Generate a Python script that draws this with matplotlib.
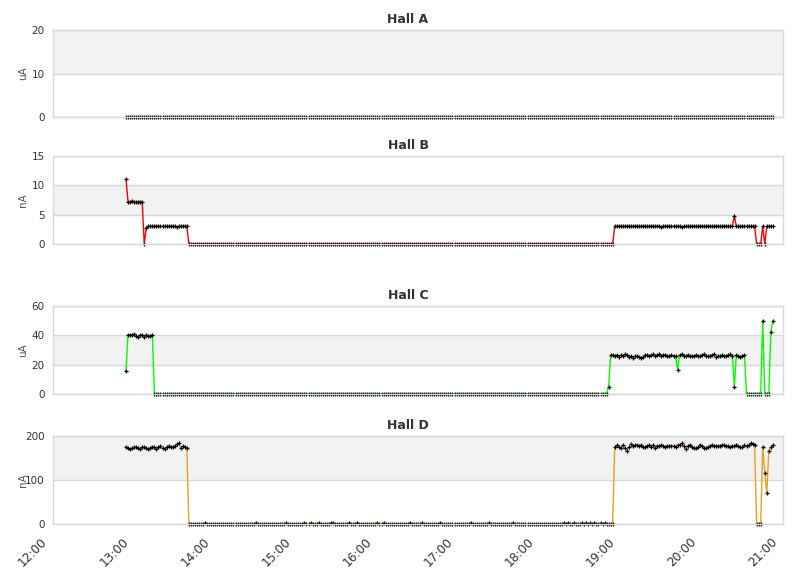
import matplotlib
matplotlib.use("Agg")
import matplotlib.pyplot as plt
import matplotlib.dates as mdates
import matplotlib.transforms as mtransforms
from datetime import datetime, timedelta

# ---------------- data ----------------
start_time = datetime(2000, 1, 1, 12, 54)
step_seconds = 90
n_points = 320
times = [start_time + timedelta(seconds=step_seconds * i) for i in range(n_points)]

titles = ["Hall A", "Hall B", "Hall C", "Hall D"]
units = ["uA", "nA", "uA", "nA"]

hall_a = [0.0] * 320

hall_b_start = [11.1, 7.2, 7.2, 7.3, 7.2, 7.1, 7.2, 7.2, 7.2, 0.0,
                2.8] + [3.0] * 14 + [2.85] + [3.0] * 5
hall_b_idle = [0.0] * 210
hall_b_evening = [3.0] * 23 + [2.85] + [3.0] * 9 + [2.85] + [3.0] * 25 + [4.8] + [3.0] * 10
hall_b_tail = [0.0, 0.0, 0.0, 3.0, 0.0, 3.0, 3.0, 3.0, 3.0]
hall_b = hall_b_start + hall_b_idle + hall_b_evening + hall_b_tail

hall_c_start = [16.0, 40.4, 40.4, 40.4, 41.1, 39.8, 39.0, 40.2, 40.2, 39.0,
                40.4, 39.8, 39.8, 40.4]
hall_c_idle = [0.0] * 224
hall_c_evening = [5.0,
                  26.6, 26.6, 25.9, 26.6, 25.5, 26.6, 26.1, 27.0, 26.6, 25.5,
                  25.9, 24.8, 25.9, 25.9, 25.5, 24.8, 25.2, 26.4, 26.6, 26.1,
                  26.6, 27.0, 25.9, 26.6, 27.0, 26.1, 26.6, 26.6, 26.1, 25.9,
                  26.6, 26.1, 25.9,
                  16.6,
                  26.6, 27.0, 26.1, 25.9, 26.6, 26.1, 25.9, 26.1, 26.6, 26.1,
                  25.9, 26.6, 27.0, 26.1, 25.9, 26.1, 26.6, 27.0, 25.5, 25.9,
                  26.1, 26.6, 25.9, 26.1, 26.6, 27.0, 26.1,
                  5.0,
                  26.6, 25.9, 25.5, 26.1, 26.6]
hall_c_tail = [0.0] * 8 + [50.0, 0.0, 0.0, 0.0, 42.0, 50.0]
hall_c = hall_c_start + hall_c_idle + hall_c_evening + hall_c_tail

hall_d_start = [176, 172, 170, 172, 174, 175, 173, 171, 174, 176,
                172, 170, 173, 176, 174, 171, 174, 177, 173, 171,
                175, 177, 174, 176, 178, 181, 184, 172, 177, 175, 173]
hall_d_idle = [0.0] * 210
hall_d_blip_index = [39, 64, 79, 88, 91, 95, 101, 102, 110, 114, 124, 127, 140,
                     146, 155, 170, 179, 191, 216, 218, 221, 225, 227, 229, 231,
                     234, 236]
hall_d_blip_value = 3.0
hall_d_evening = [174, 179, 176, 172, 180, 172, 166, 176, 182, 177,
                  179, 180, 178, 179, 176, 174, 178, 180, 176, 179,
                  172, 177, 178, 180, 177, 176, 178, 177, 178, 177,
                  176, 179, 180, 183, 177, 170, 178, 180, 174, 173,
                  172, 174, 180, 177, 173, 172, 176, 178, 180, 178,
                  177, 178, 178, 179, 180, 177, 178, 174, 178, 178,
                  180, 177, 174, 174, 179, 177, 180, 183, 182, 180]
hall_d_tail = [0, 0, 0, 175, 117, 70, 167, 174, 180]
hall_d = [float(v) for v in hall_d_start + hall_d_idle + hall_d_evening + hall_d_tail]
for idx in hall_d_blip_index:
    hall_d[idx] = hall_d_blip_value

series = [hall_a, hall_b, hall_c, hall_d]
colors = ["#7f7f7f", "#ff0000", "#00ff00", "#e6a21c"]
yticks_all = [[0, 10, 20], [0, 5, 10, 15], [0, 20, 40, 60], [0, 100, 200]]
x_start = datetime(2000, 1, 1, 12, 0)
x_end = datetime(2000, 1, 1, 21, 0)

# ---------------- layout ----------------
W_PX, H_PX = 811, 578
fig = plt.figure(figsize=(W_PX / 100, H_PX / 100), dpi=100)
left_px, right_px = 53, 783
panel_px = [(30, 117), (156, 244), (306, 394), (436, 524)]

grid_col = "#d8d8d8"
band_col = "#f2f2f2"
text_col = "#333333"

for k in range(4):
    top, bot = panel_px[k]
    ax = fig.add_axes([left_px / W_PX, 1 - bot / H_PX,
                       (right_px - left_px) / W_PX, (bot - top) / H_PX])
    yt = yticks_all[k]
    ax.set_xlim(x_start, x_end)
    ax.set_ylim(yt[0], yt[-1])
    ax.set_yticks(yt)
    for j in range(len(yt) - 1):
        if j % 2 == 1:
            ax.axhspan(yt[j], yt[j + 1], color=band_col, zorder=0, lw=0)
    ax.set_axisbelow(True)
    ax.yaxis.grid(True, color=grid_col, lw=1)
    ax.xaxis.grid(False)
    for sp in ax.spines.values():
        sp.set_color(grid_col)
        sp.set_linewidth(1)

    ax.plot(times, series[k], color=colors[k], lw=1, zorder=2, clip_on=True)
    ax.plot(times, series[k], ls="none", marker="+", ms=3.2, mew=0.9,
            color="black", zorder=2.2, clip_on=False)

    ax.xaxis.set_major_locator(mdates.HourLocator())
    ax.xaxis.set_major_formatter(mdates.DateFormatter("%H:%M"))
    ax.tick_params(axis="both", length=0, labelsize=7.5, labelcolor=text_col)
    ax.tick_params(axis="y", pad=6)
    if k < 3:
        ax.tick_params(axis="x", labelbottom=False)
    else:
        ax.tick_params(axis="x", pad=8, labelsize=8.8)
        shift = mtransforms.ScaledTranslation(-3 / 100, 0, fig.dpi_scale_trans)
        for lab in ax.get_xticklabels():
            lab.set_rotation(45)
            lab.set_ha("right")
            lab.set_va("top")
            lab.set_rotation_mode("default")
            lab.set_transform(lab.get_transform() + shift)

    ax.set_title(titles[k], x=(408 - left_px) / (right_px - left_px),
                 fontsize=9, fontweight="bold", color=text_col, pad=5)
    ax.set_ylabel(units[k], fontsize=7.5, color="#555555")
    ax.yaxis.set_label_coords((28 - left_px) / (right_px - left_px), 0.5)

fig.savefig("out.png", dpi=100)
